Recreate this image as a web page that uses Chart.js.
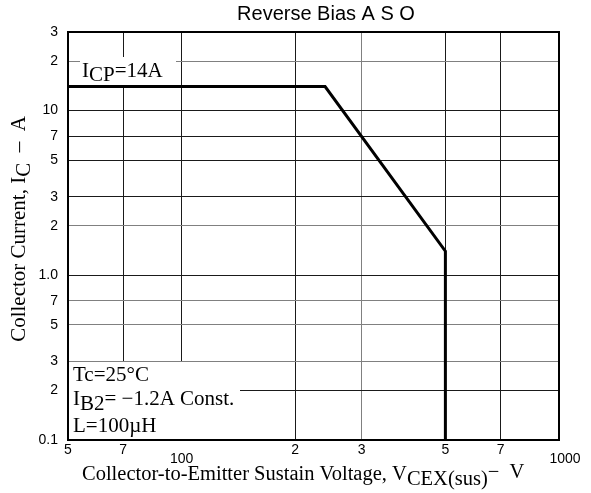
<!DOCTYPE html>
<html>
<head>
<meta charset="utf-8">
<script src="https://cdn.jsdelivr.net/npm/chart.js@4.4.1/dist/chart.umd.min.js"></script>
<style>
  html, body { margin: 0; background: #fff; }
  #wrap { width: 591px; height: 493px; }
</style>
</head>
<body>
<div id="wrap"><canvas id="chart"></canvas></div>
<script>
const xTicks = [50, 70, 100, 200, 300, 500, 700, 1000];
const xTickLabels = ["5", "7", "100", "2", "3", "5", "7", "1000"];
const yTicks = [0.1, 0.2, 0.3, 0.5, 0.7, 1, 2, 3, 5, 7, 10, 20, 30];
const yTickLabels = ["0.1", "2", "3", "5", "7", "1.0", "2", "3", "5", "7", "10", "2", "3"];
// reverse bias safe operating area boundary
const voltage = [50, 240, 500, 500];
const current = [14, 14, 1.4, 0.1];

const greyX = [300];
const greyY = [20, 2, 0.7, 0.5, 0.3];

const SANS = "'Liberation Sans', Arial, sans-serif";
const SERIF = "'Liberation Serif', 'Times New Roman', serif";

// draw a list of text runs [text, dy] one after another
function drawRuns(ctx, x, y, runs, align) {
  let w = 0;
  for (const [t] of runs) w += ctx.measureText(t).width;
  let cx = align === "center" ? x - w / 2 : x;
  ctx.textAlign = "left";
  for (const [t, dy] of runs) {
    ctx.fillText(t, cx, y + dy);
    cx += ctx.measureText(t).width;
  }
}

const textPlugin = {
  id: "texts",
  beforeDatasetsDraw(chart) {
    const { ctx, chartArea: a } = chart;
    ctx.save();
    // label boxes hide the grid behind them
    ctx.fillStyle = "#fff";
    ctx.fillRect(a.left + 12, 57, 96, 28);
    ctx.fillRect(a.left + 1, 362, 171, a.bottom - 362);

    ctx.fillStyle = "#000";
    ctx.font = "21px " + SERIF;
    ctx.textBaseline = "alphabetic";
    drawRuns(ctx, a.left + 14, 77, [["I", 0], ["CP", 4], ["=14A", 0]]);
    drawRuns(ctx, a.left + 5, 381, [["Tc=25°C", 0]]);
    drawRuns(ctx, a.left + 5, 405, [["I", 0], ["B2", 5], ["= \u22121.2A Const.", 0]]);
    drawRuns(ctx, a.left + 5, 432, [["L=100\u00b5H", 0]]);
    ctx.restore();
  },
  afterDraw(chart) {
    const { ctx, chartArea: a, scales } = chart;
    ctx.save();
    ctx.strokeStyle = "#000";
    ctx.lineWidth = 2;
    ctx.strokeRect(a.left, a.top, a.right - a.left, a.bottom - a.top);

    ctx.fillStyle = "#000";
    ctx.font = "20px " + SANS;
    ctx.textBaseline = "alphabetic";
    drawRuns(ctx, 326, 20, [["Reverse Bias A S O", 0]], "center");

    // x tick labels, decades sit a little lower
    ctx.font = "14px " + SANS;
    ctx.textBaseline = "middle";
    ctx.textAlign = "center";
    xTicks.forEach((v, i) => {
      const px = scales.x.getPixelForValue(v);
      const low = v === 100 || v === 1000;
      ctx.fillText(xTickLabels[i], px + (v === 1000 ? 6 : 0), low ? 459 : 450);
    });

    ctx.font = "20.5px " + SERIF;
    ctx.textBaseline = "alphabetic";
    drawRuns(ctx, 82, 480, [
      ["Collector-to-Emitter Sustain Voltage, V", 0],
      ["CEX(sus)", 5],
      ["\u2212  V", -2]
    ]);

    ctx.font = "21px " + SERIF;
    ctx.translate(25, 229);
    ctx.rotate(-Math.PI / 2);
    drawRuns(ctx, 0, 0, [
      ["Collector Current, I", 0],
      ["C", 5],
      ["  \u2013  A", 0]
    ], "center");
    ctx.restore();
  }
};

new Chart(document.getElementById("chart"), {
  type: "scatter",
  data: {
    datasets: [{
      data: voltage.map((v, i) => ({ x: v, y: current[i] })),
      showLine: true,
      borderColor: "#000",
      borderWidth: 3,
      pointRadius: 0,
      tension: 0
    }]
  },
  options: {
    responsive: true,
    maintainAspectRatio: false,
    animation: false,
    layout: { padding: { left: 0, right: 32, top: 32, bottom: 0 } },
    plugins: { legend: { display: false }, tooltip: { enabled: false } },
    scales: {
      x: {
        type: "logarithmic",
        min: 50,
        max: 1000,
        afterBuildTicks: s => { s.ticks = xTicks.map(v => ({ value: v })); },
        afterFit: s => { s.height = 53; },
        ticks: { display: false },
        grid: {
          drawTicks: false,
          color: c => greyX.includes(c.tick && c.tick.value) ? "#808080" : "#1a1a1a"
        },
        border: { display: false }
      },
      y: {
        type: "logarithmic",
        min: 0.1,
        max: 30,
        afterBuildTicks: s => { s.ticks = yTicks.map(v => ({ value: v })); },
        afterFit: s => { s.width = 68; },
        ticks: {
          padding: 10,
          color: "#000",
          font: { family: SANS, size: 14 },
          callback: (v, i) => yTickLabels[i]
        },
        grid: {
          drawTicks: false,
          color: c => greyY.includes(c.tick && c.tick.value) ? "#808080" : "#1a1a1a"
        },
        border: { display: false }
      }
    }
  },
  plugins: [textPlugin]
});
</script>
</body>
</html>
